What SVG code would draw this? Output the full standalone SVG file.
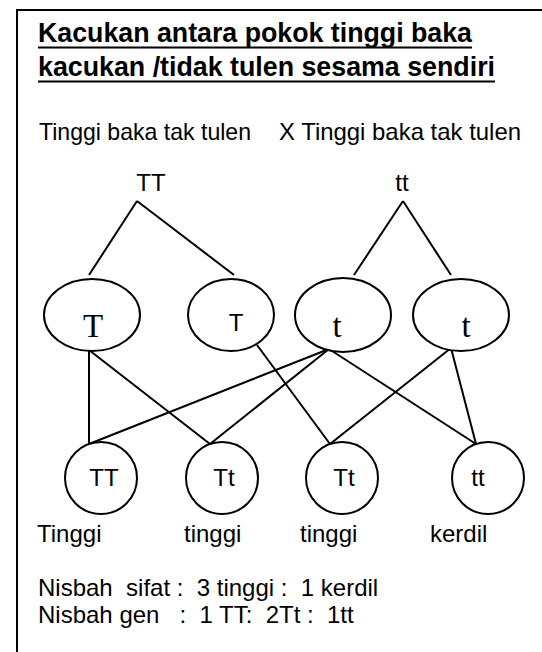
<svg xmlns="http://www.w3.org/2000/svg" width="542" height="652" viewBox="0 0 542 652">
<style>
.s{font-family:"Liberation Sans",Arial,sans-serif;font-size:24px;fill:#000}
.t{font-family:"Liberation Sans",Arial,sans-serif;font-size:27px;font-weight:bold;fill:#000}
.r{font-family:"Liberation Serif","Times New Roman",serif;font-size:33px;fill:#000}
.n{fill:#fff;stroke:#000;stroke-width:2}
.c line{stroke:#000;stroke-width:2}
</style>
<rect x="0" y="0" width="542" height="652" fill="#fff"/>
<rect x="17" y="10" width="560" height="700" fill="none" stroke="#000" stroke-width="2"/>
<g id="title">
<text class="t" x="38" y="42" textLength="434" lengthAdjust="spacingAndGlyphs">Kacukan antara pokok tinggi baka</text>
<text class="t" x="38" y="76" textLength="457" lengthAdjust="spacingAndGlyphs">kacukan /tidak tulen sesama sendiri</text>
<line x1="38" y1="47.5" x2="472" y2="47.5" stroke="#000" stroke-width="2"/>
<line x1="38" y1="81.5" x2="495" y2="81.5" stroke="#000" stroke-width="2"/>
</g>
<text class="s" x="39" y="140" textLength="212" lengthAdjust="spacingAndGlyphs">Tinggi baka tak tulen</text>
<text class="s" x="279" y="140" textLength="242" lengthAdjust="spacingAndGlyphs">X Tinggi baka tak tulen</text>
<g id="parent1"><text class="s" x="151" y="191" text-anchor="middle">TT</text></g>
<g id="parent2"><text class="s" x="402" y="191" text-anchor="middle">tt</text></g>
<g class="c" id="connectors">
<line x1="137" y1="201" x2="89" y2="275"/>
<line x1="137" y1="201" x2="234" y2="275"/>
<line x1="403" y1="201" x2="354" y2="275"/>
<line x1="403" y1="201" x2="451" y2="275"/>
<line x1="89" y1="350" x2="89" y2="444"/>
<line x1="89" y1="350" x2="210" y2="444"/>
<line x1="257" y1="345" x2="330" y2="444"/>
<line x1="329" y1="349" x2="89" y2="444"/>
<line x1="329" y1="349" x2="210" y2="444"/>
<line x1="329" y1="349" x2="476" y2="444"/>
<line x1="451" y1="348" x2="330" y2="444"/>
<line x1="451" y1="348" x2="476" y2="444"/>
</g>
<g id="g1"><ellipse class="n" cx="92" cy="315" rx="48" ry="36" fill="none"/><text class="r" x="93" y="337" text-anchor="middle">T</text></g>
<g id="g2"><ellipse class="n" cx="231" cy="315" rx="43" ry="36" fill="none"/><text class="s" x="236" y="331" text-anchor="middle">T</text></g>
<g id="g3"><ellipse class="n" cx="343" cy="315" rx="48" ry="37" fill="none"/><text class="r" x="337" y="337" text-anchor="middle">t</text></g>
<g id="g4"><ellipse class="n" cx="461" cy="315" rx="48" ry="36" fill="none"/><text class="r" x="466" y="337" text-anchor="middle">t</text></g>
<g id="o1"><circle class="n" cx="101" cy="478" r="36" fill="none"/><text class="s" x="104" y="486" text-anchor="middle">TT</text></g>
<g id="o2"><circle class="n" cx="222" cy="478" r="36" fill="none"/><text class="s" x="224" y="486" text-anchor="middle">Tt</text></g>
<g id="o3"><circle class="n" cx="342" cy="478" r="36" fill="none"/><text class="s" x="344" y="486" text-anchor="middle">Tt</text></g>
<g id="o4"><circle class="n" cx="488" cy="478" r="36" fill="none"/><text class="s" x="478" y="486" text-anchor="middle">tt</text></g>
<g id="labels">
<text class="s" x="37" y="542">Tinggi</text>
<text class="s" x="184" y="542">tinggi</text>
<text class="s" x="300" y="542">tinggi</text>
<text class="s" x="430" y="542">kerdil</text>
</g>
<text class="s" x="38" y="596" xml:space="preserve">Nisbah  sifat :  3 tinggi :  1 kerdil</text>
<text class="s" x="38" y="623" xml:space="preserve">Nisbah gen   :  1 TT:  2Tt :  1tt</text>
</svg>
